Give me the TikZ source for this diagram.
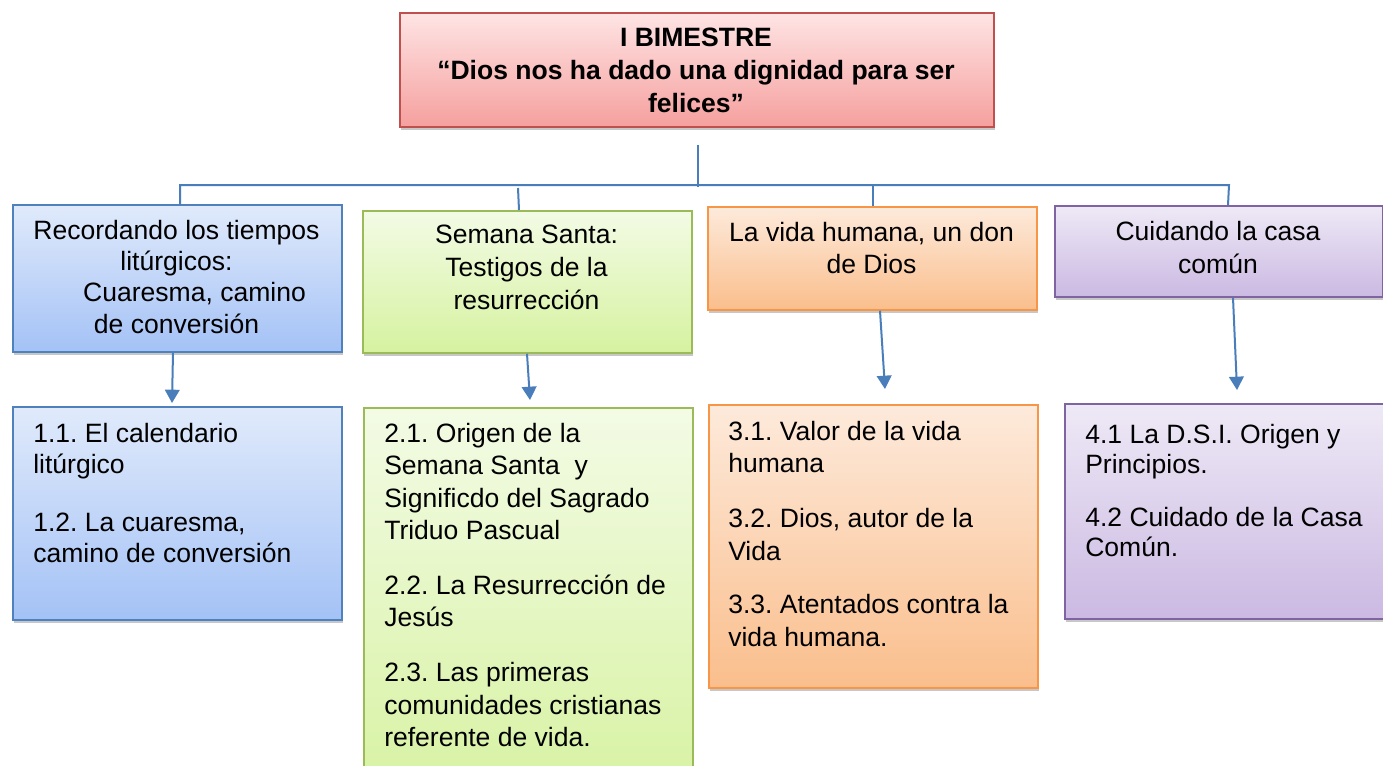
\documentclass[tikz,border=0pt]{standalone}
\usepackage{fontspec}
\setmainfont{Liberation Sans}
\usetikzlibrary{shadows,calc,arrows.meta}
\definecolor{rTop}{RGB}{254,228,228}
\definecolor{rBot}{RGB}{245,160,158}
\definecolor{rDr}{RGB}{192,80,77}
\definecolor{bTop}{RGB}{224,234,251}
\definecolor{bBot}{RGB}{164,194,246}
\definecolor{bDr}{RGB}{79,129,189}
\definecolor{gTop}{RGB}{243,251,229}
\definecolor{gBot}{RGB}{214,242,160}
\definecolor{gDr}{RGB}{155,187,89}
\definecolor{oTop}{RGB}{253,234,219}
\definecolor{oBot}{RGB}{250,190,140}
\definecolor{oDr}{RGB}{247,150,70}
\definecolor{pTop}{RGB}{238,233,246}
\definecolor{pBot}{RGB}{203,185,226}
\definecolor{pDr}{RGB}{128,100,162}
\definecolor{lnC}{RGB}{74,126,187}
\newcommand\bodyfont{\fontsize{19.9pt}{24pt}\selectfont\frenchspacing}
\begin{document}
\begin{tikzpicture}[x=0.75pt,y=-0.75pt,
  cbox/.style={draw, line width=1.3pt, anchor=north west, inner sep=0pt,
    drop shadow={shadow xshift=1.2pt, shadow yshift=-2.2pt, opacity=0.22, fill=black}},
  redbox/.style={cbox, draw=rDr, top color=rTop, bottom color=rBot},
  bluebox/.style={cbox, draw=bDr, top color=bTop, bottom color=bBot},
  greenbox/.style={cbox, draw=gDr, top color=gTop, bottom color=gBot},
  orangebox/.style={cbox, draw=oDr, top color=oTop, bottom color=oBot},
  purplebox/.style={cbox, draw=pDr, top color=pTop, bottom color=pBot},
  txt/.style={inner sep=0pt, font=\bodyfont, text=black},
  conn/.style={draw=lnC, line width=1.5pt},
  arr/.style={conn, -{Triangle[width=11pt,length=10pt]}}]
\fill[white] (0,0) rectangle (1383,765);
\useasboundingbox (0,0) rectangle (1383,765);

% boxes
\node[redbox, minimum width=445.5pt, minimum height=85.5pt] (top) at (399,12) {};
\node[bluebox, minimum width=246.75pt, minimum height=110.25pt] (u1) at (12,204) {};
\node[greenbox, minimum width=246.75pt, minimum height=106.5pt] (u2) at (362,210) {};
\node[orangebox, minimum width=246.75pt, minimum height=77.25pt] (u3) at (707,206) {};
\node[purplebox, minimum width=246pt, minimum height=68.25pt] (u4) at (1054,205) {};
\node[bluebox, minimum width=246.75pt, minimum height=159.75pt] (l1) at (12,406) {};
\node[greenbox, minimum width=246.75pt, minimum height=300pt] (l2) at (363,407) {};
\node[orangebox, minimum width=246.75pt, minimum height=212.25pt] (l3) at (708,404) {};
\node[purplebox, minimum width=255pt, minimum height=161.25pt] (l4) at (1064,403) {};

% texts
\node[txt, anchor=base, font=\bodyfont\bfseries] (tt) at (696,46)
  {\parbox[t]{440pt}{\centering\baselineskip=24.75pt I BIMESTRE\\ “Dios nos ha dado una dignidad para ser\\ felices”}};
\node[txt, anchor=base] (u1t) at (176.5,239)
  {\parbox[t]{246pt}{\centering\baselineskip=23.5pt Recordando los tiempos\\ litúrgicos:\\ \hspace*{27pt}Cuaresma, camino\\ de conversión}};
\node[txt, anchor=base] (u2t) at (526.5,243)
  {\parbox[t]{246pt}{\centering\baselineskip=24.75pt Semana Santa:\\ Testigos de la\\ resurrección}};
\node[txt, anchor=base] (u3t) at (871.5,241)
  {\parbox[t]{246pt}{\centering\baselineskip=24pt La vida humana, un don\\ de Dios}};
\node[txt, anchor=base] (u4t) at (1218,240)
  {\parbox[t]{246pt}{\centering\baselineskip=24.75pt Cuidando la casa\\ común}};
\node[txt, anchor=base west] (l1t) at (33,442)
  {\parbox[t]{240pt}{\raggedright\baselineskip=23.25pt 1.1. El calendario\\ litúrgico\\[20.5pt] 1.2. La cuaresma,\\ camino de conversión}};
\node[txt, anchor=base west] (l2t) at (384,442)
  {\parbox[t]{240pt}{\raggedright\baselineskip=24.4pt 2.1. Origen de la\\ Semana Santa~ y\\ Significdo del Sagrado\\ Triduo Pascual\\[16.5pt] 2.2. La Resurrección de\\ Jesús\\[17pt] 2.3. Las primeras\\ comunidades cristianas\\ referente de vida.}};
\node[txt, anchor=base west] (l3t) at (728,440)
  {\parbox[t]{240pt}{\raggedright\baselineskip=24.5pt 3.1. Valor de la vida\\ humana\\[16.5pt] 3.2. Dios, autor de la\\ Vida\\[15.5pt] 3.3. Atentados contra la\\ vida humana.}};
\node[txt, anchor=base west] (l4t) at (1085,443)
  {\parbox[t]{240pt}{\raggedright\baselineskip=22.5pt 4.1 La D.S.I. Origen y\\ Principios.\\[17.5pt] 4.2 Cuidado de la Casa\\ Común.}};

% tree connectors
\draw[conn] ($(top.south)+(1,17)$) -- ($(top.south)+(1,59)$);
\draw[conn] ($(u1.north west)+(168,0)$) -- ($(u1.north west)+(168,-19)$)
  -- ($(u4.north west)+(175,-20)$) -- ($(u4.north west)+(174,0)$);
\draw[conn] ($(u2.north west)+(157,0)$) -- ($(u2.north west)+(156,-22)$);
\draw[conn] ($(u3.north west)+(166,0)$) -- ($(u3.north west)+(166,-21)$);

% arrows
\draw[arr] ($(u1.south west)+(161,0)$) -- ($(l1.north west)+(160,-3)$);
\draw[arr] ($(u2.south west)+(165,0)$) -- ($(l2.north west)+(167,-7)$);
\draw[arr] ($(u3.south west)+(173,0)$) -- ($(l3.north west)+(177,-15)$);
\draw[arr] ($(u4.south west)+(179,0)$) -- ($(l4.north west)+(173,-13)$);
\end{tikzpicture}
\end{document}
